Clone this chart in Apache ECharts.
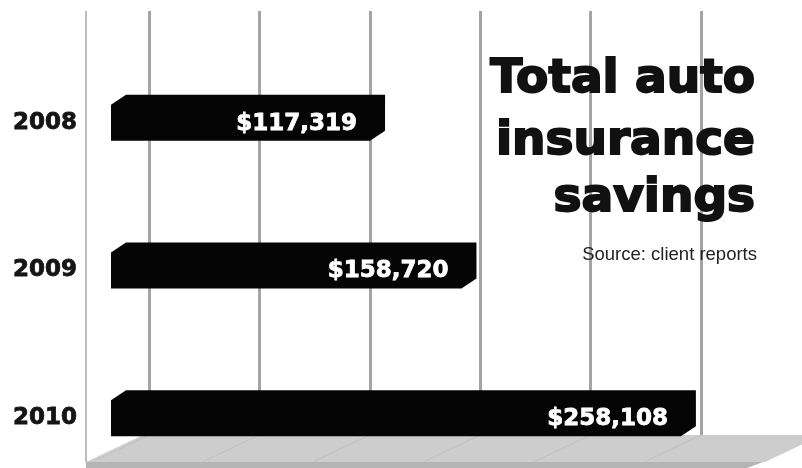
<!DOCTYPE html>
<html>
<head>
<meta charset="utf-8">
<script src="https://cdn.jsdelivr.net/npm/echarts@6/dist/echarts.min.js"></script>
<style>
  html, body { margin: 0; padding: 0; background: #fff; }
  #main { width: 802px; height: 468px; }
</style>
</head>
<body>
<div id="main"></div>
<script>
(function () {
    // data
    var years = ["2008", "2009", "2010"];
    var savings = [117319, 158720, 258108];
    var xTicks = [0, 50000, 100000, 150000, 200000, 250000];
    var titleLines = ["Total auto", "insurance", "savings"];
    var sourceText = "Source: client reports";

    var myChart = echarts.init(document.getElementById("main"));

    var FONT = '"DejaVu Sans", sans-serif';
    // 3D look: bars sit in front of the back wall
    var DX_FRONT = -38, DX_BACK = -23, DEPTH = 10, HALF = 18;

    function fmt(v) {
        return "$" + v.toLocaleString("en-US");
    }

    function renderBar(params, api) {
        var val = api.value(0);
        var cat = api.value(1);
        var end = api.coord([val, cat]);
        var start = api.coord([0, cat]);
        var yc = end[1];
        var x0F = start[0] + DX_FRONT, x0B = start[0] + DX_BACK;
        var x1F = end[0] + DX_FRONT, x1B = end[0] + DX_BACK;
        var pts = [
            [x0F, yc + HALF],
            [x0F, yc - HALF],
            [x0B, yc - HALF - DEPTH],
            [x1B, yc - HALF - DEPTH],
            [x1B, yc + HALF - DEPTH],
            [x1F, yc + HALF]
        ];
        return {
            type: "group",
            children: [{
                type: "polygon",
                shape: { points: pts },
                style: { fill: "#050505" }
            }, {
                type: "text",
                style: {
                    text: fmt(val),
                    x: x1B - 28,
                    y: yc + 1,
                    align: "right",
                    verticalAlign: "middle",
                    fill: "#ffffff",
                    stroke: "#ffffff",
                    lineWidth: 0.8,
                    fontSize: 23,
                    fontWeight: "bold",
                    fontFamily: FONT
                }
            }]
        };
    }

    var titleGraphics = titleLines.map(function (t, i) {
        return {
            type: "text",
            z: 10,
            style: {
                text: t,
                x: 755,
                y: [80, 142, 199][i],
                align: "right",
                verticalAlign: "middle",
                fill: "#111",
                stroke: "#111",
                lineWidth: 2,
                fontSize: 47,
                fontWeight: "bold",
                fontFamily: FONT
            }
        };
    });

    var option = {
        animation: false,
        backgroundColor: "#ffffff",
        grid: [
            // back wall (gridlines)
            { left: 149, right: 101, top: 11, bottom: 32, outerBoundsMode: "none", containLabel: false },
            // bar layout
            { left: 149, right: 101, top: 49, bottom: -24, outerBoundsMode: "none", containLabel: false }
        ],
        xAxis: [{
            gridIndex: 0,
            type: "value",
            min: 0,
            max: 250000,
            interval: 50000,
            axisLine: { show: false },
            axisTick: { show: false },
            axisLabel: { show: false },
            splitLine: { show: true, lineStyle: { color: "#a4a4a4", width: 3 } }
        }, {
            gridIndex: 1,
            type: "value",
            min: 0,
            max: 250000,
            interval: 50000,
            show: false
        }],
        yAxis: [{
            gridIndex: 0,
            type: "category",
            data: years,
            show: false
        }, {
            gridIndex: 1,
            type: "category",
            inverse: true,
            data: years,
            axisLine: { show: false },
            axisTick: { show: false },
            splitLine: { show: false },
            axisLabel: {
                margin: 72,
                color: "#151515",
                textBorderColor: "#151515",
                textBorderWidth: 0.8,
                fontSize: 23,
                fontWeight: "bold",
                fontFamily: FONT
            }
        }],
        series: [{
            type: "custom",
            xAxisIndex: 1,
            yAxisIndex: 1,
            clip: false,
            z: 5,
            renderItem: renderBar,
            data: savings.map(function (v, i) { return [v, i]; })
        }]
    };
    myChart.setOption(option);

    // floor + side edge, tied to the back-wall axis
    var floorTop = 435, floorFront = 462, slant = 57;
    var gfx = [];
    gfx.push({
        type: "polygon", z: 1,
        shape: { points: [[86, floorFront], [86 + slant, floorTop], [802 + 20, floorTop], [802 + 20 - slant, floorFront]] },
        style: { fill: "#cdcdcd" }
    });
    gfx.push({
        type: "polygon", z: 1,
        shape: { points: [[86, floorFront], [763, floorFront], [747, 468], [86, 468]] },
        style: { fill: "#b4b4b4" }
    });
    xTicks.forEach(function (v) {
        var x = myChart.convertToPixel({ xAxisIndex: 0 }, v);
        gfx.push({
            type: "line", z: 2,
            shape: { x1: x, y1: floorTop, x2: x - slant, y2: floorFront },
            style: { stroke: "#c2c2c2", lineWidth: 1.2 }
        });
    });
    gfx.push({
        type: "line", z: 2,
        shape: { x1: 86, y1: 11, x2: 86, y2: floorFront },
        style: { stroke: "#bdbdbd", lineWidth: 2 }
    });
    gfx = gfx.concat(titleGraphics);
    gfx.push({
        type: "text", z: 10,
        style: {
            text: sourceText,
            x: 757,
            y: 255,
            align: "right",
            verticalAlign: "middle",
            fill: "#222",
            fontSize: 18.5,
            fontFamily: '"Liberation Sans", Arial, sans-serif'
        }
    });
    myChart.setOption({ graphic: gfx });
})();
</script>
</body>
</html>
